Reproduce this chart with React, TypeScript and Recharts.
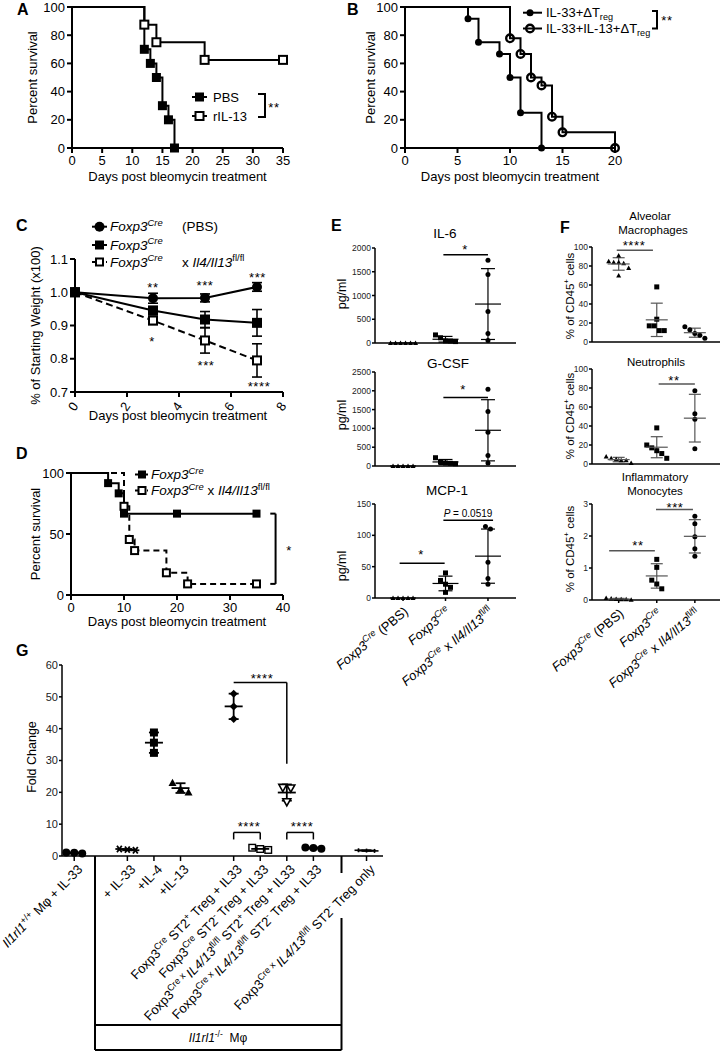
import React from 'react';
import { LineChart, Line, XAxis, YAxis, ScatterChart, Scatter, ErrorBar, ReferenceLine } from 'recharts';

const FONT = "'Liberation Sans', Arial, Helvetica, sans-serif";
type Seg = { t: string; i?: boolean; sup?: boolean; sub?: boolean };

/* ---------------- Panel A ---------------- */
const aXTicks = [0, 5, 10, 15, 20, 25, 30, 35];
const aYTicks = [0, 20, 40, 60, 80, 100];
const aPbsDays = [0, 12, 13, 14, 15, 16, 17];
const aPbsSurv = [100, 70, 60, 50, 30, 20, 0];
const aIl13Days = [0, 12, 14, 22, 35];
const aIl13Surv = [100, 87.5, 75, 62.5, 62.5];

/* ---------------- Panel B ---------------- */
const bXTicks = [0, 5, 10, 15, 20];
const bYTicks = [0, 20, 40, 60, 80, 100];
const bTregDays = [0, 6, 7, 9, 10, 11, 13];
const bTregSurv = [100, 91.7, 75, 66.7, 50, 25, 0];
const bIl13Days = [0, 10, 11, 12, 13, 14, 15, 20];
const bIl13Surv = [100, 77.8, 66.7, 50, 44.4, 22.2, 11.1, 0];

/* ---------------- Panel C ---------------- */
const cDays = [0, 3, 5, 7];
const cXTicks = [0, 2, 4, 6, 8];
const cYTicks = [0.7, 0.8, 0.9, 1.0, 1.1];
const cPbsMean = [1.0, 0.982, 0.983, 1.016];
const cPbsSd = [0, 0.015, 0.012, 0.013];
const cCreMean = [1.0, 0.945, 0.918, 0.908];
const cCreSd = [0, 0.012, 0.024, 0.04];
const cKoMean = [1.0, 0.915, 0.855, 0.795];
const cKoSd = [0, 0.012, 0.038, 0.05];

/* ---------------- Panel D ---------------- */
const dXTicks = [0, 10, 20, 30, 40];
const dYTicks = [0, 50, 100];
const dCreDays = [0, 7, 9, 10, 20, 35];
const dCreSurv = [100, 91.7, 83.3, 66.7, 66.7, 66.7];
const dKoDays = [0, 10, 11, 12, 18, 22, 35];
const dKoSurv = [100, 72.7, 45.5, 36.4, 18.2, 9.1, 9.1];

/* ---------------- Panel E ---------------- */
const eSlots = [1, 2, 3];
const eIl6Ticks = [0, 500, 1000, 1500, 2000];
const eIl6Pbs = [0, 0, 0, 0, 0, 0];
const eIl6Cre = [170, 110, 45, 40, 30];
const eIl6Ko = [1740, 1440, 665, 200, 55];
const eGcsfTicks = [0, 500, 1000, 1500, 2000, 2500];
const eGcsfPbs = [0, 0, 0, 0, 0];
const eGcsfCre = [220, 110, 80, 70, 60];
const eGcsfKo = [2040, 1450, 900, 280, 80];
const eMcpTicks = [0, 50, 100, 150];
const eMcpPbs = [0, 0, 0, 0, 0];
const eMcpCre = [40, 28, 22, 17, 9];
const eMcpKo = [114, 110, 57, 31, 22];

/* ---------------- Panel F ---------------- */
const fPctTicks = [0, 20, 40, 60, 80, 100];
const fAmPbs = [91, 85, 84, 83, 84, 78, 70];
const fAmCre = [58, 24, 17, 17, 12, 12];
const fAmKo = [16, 13, 9, 7, 4];
const fNeuPbs = [8, 6, 5, 4, 4, 1];
const fNeuCre = [38, 20, 17, 14, 11, 6];
const fNeuKo = [77, 53, 47, 16];
const fMonoTicks = [0, 1, 2, 3];
const fMonoPbs = [0.06, 0.05, 0.03, 0.02, 0.02, 0.01];
const fMonoCre = [1.27, 1.02, 0.62, 0.5, 0.35];
const fMonoKo = [2.62, 2.38, 1.98, 1.6, 1.37];

const efCatLabels: Seg[][] = [
  [{ t: 'Foxp3', i: true }, { t: 'Cre', sup: true, i: true }, { t: ' (PBS)' }],
  [{ t: 'Foxp3', i: true }, { t: 'Cre', sup: true, i: true }],
  [{ t: 'Foxp3', i: true }, { t: 'Cre', sup: true, i: true }, { t: ' x ' }, { t: 'Il4/Il13', i: true }, { t: 'fl/fl', sup: true }],
];

/* ---------------- Panel G ---------------- */
const gSlots = [0, 2, 3, 4, 6, 7, 8, 9, 11];
const gYTicks = [0, 10, 20, 30, 40, 50, 60];
const gWtIl33 = [1.0, 0.8, 1.1];
const gIl33 = [2.2, 1.8, 2.0];
const gIl4 = [38.8, 35.6, 32.4];
const gIl13 = [23, 21, 20];
const gCreSt2pos = [51, 47, 43];
const gCreSt2neg = [2.6, 2.2, 1.9];
const gKoSt2pos = [21.5, 21.3, 17];
const gKoSt2neg = [2.7, 2.5, 2.3];
const gKoOnly = [1.8, 1.7, 1.6];
const gLabels: Seg[][] = [
  [{ t: 'Il1rl1', i: true }, { t: '+/+', sup: true }, { t: ' Mφ + IL-33' }],
  [{ t: '+ IL-33' }],
  [{ t: '+IL-4' }],
  [{ t: '+IL-13' }],
  [{ t: 'Foxp3' }, { t: 'Cre', sup: true }, { t: ' ST2' }, { t: '+', sup: true }, { t: ' Treg + IL33' }],
  [{ t: 'Foxp3' }, { t: 'Cre', sup: true }, { t: ' ST2' }, { t: '-', sup: true }, { t: ' Treg + IL33' }],
  [{ t: 'Foxp3' }, { t: 'Cre x ', sup: true }, { t: 'IL4/13', i: true }, { t: 'fl/fl', sup: true }, { t: ' ST2' }, { t: '+', sup: true }, { t: ' Treg + IL33' }],
  [{ t: 'Foxp3' }, { t: 'Cre x ', sup: true }, { t: 'IL4/13', i: true }, { t: 'fl/fl', sup: true }, { t: ' ST2' }, { t: '-', sup: true }, { t: ' Treg + IL33' }],
  [{ t: 'Foxp3' }, { t: 'Cre x ', sup: true }, { t: 'IL4/13', i: true }, { t: 'fl/fl', sup: true }, { t: ' ST2' }, { t: '-', sup: true }, { t: ' Treg only' }],
];

/* ---------------- helpers ---------------- */
const zip = (xs: number[], ys: number[], es?: number[]) => xs.map((x, i) => ({ x, y: ys[i], e: es ? es[i] : 0 }));
const mean = (a: number[]) => a.reduce((s, v) => s + v, 0) / a.length;
const sdev = (a: number[]) => {
  const m = mean(a);
  return a.length > 1 ? Math.sqrt(a.reduce((s, v) => s + (v - m) * (v - m), 0) / (a.length - 1)) : 0;
};

function swarm(vals: number[], pxY: number, d: number): number[] {
  const order = vals.map((_, i) => i).sort((a, b) => vals[b] - vals[a]);
  const offs = new Array(vals.length).fill(0);
  let cl: number[] = [];
  const flush = () => {
    const k = cl.length;
    cl.forEach((idx, j) => (offs[idx] = (j - (k - 1) / 2) * d));
    cl = [];
  };
  order.forEach((idx) => {
    if (cl.length && Math.abs(vals[cl[cl.length - 1]] - vals[idx]) * pxY >= d) flush();
    cl.push(idx);
  });
  flush();
  return offs;
}

function rich(segs: Seg[], fs: number) {
  let cur = 0;
  return segs.map((s, j) => {
    const small = s.sup || s.sub;
    const target = s.sup ? -fs * 0.4 : s.sub ? fs * 0.25 : 0;
    const dy = target - cur;
    cur = target;
    return (
      <tspan key={j} dy={dy} fontSize={small ? fs * 0.7 : fs} fontStyle={s.i ? 'italic' : 'normal'}>
        {s.t}
      </tspan>
    );
  });
}

function geo(x0: number, y0: number, x1: number, y1: number, yw: number, xh: number, mt = 10, mr = 10) {
  return {
    left: x0 - yw,
    top: y0 - mt,
    width: x1 - x0 + yw + mr,
    height: y1 - y0 + mt + xh,
    margin: { top: mt, right: mr, bottom: 0, left: 0 },
    yw,
    xh,
    pw: x1 - x0,
    ph: y1 - y0,
  };
}

function Mk({ k, cx, cy, s }: any) {
  const h = s / 2;
  switch (k) {
    case 'fsq':
      return <rect x={cx - h} y={cy - h} width={s} height={s} fill="#000" />;
    case 'osq':
      return <rect x={cx - h + 1} y={cy - h + 1} width={s - 2} height={s - 2} fill="#fff" stroke="#000" strokeWidth={2} />;
    case 'osqThin':
      return <rect x={cx - h + 0.7} y={cy - h + 0.7} width={s - 1.4} height={s - 1.4} fill="#fff" stroke="#000" strokeWidth={1.4} />;
    case 'fci':
      return <circle cx={cx} cy={cy} r={h} fill="#000" />;
    case 'oci':
      return <circle cx={cx} cy={cy} r={h - 1.2} fill="none" stroke="#000" strokeWidth={2.4} />;
    case 'ftri':
      return <polygon points={`${cx},${cy - h} ${cx + h},${cy + h * 0.8} ${cx - h},${cy + h * 0.8}`} fill="#000" />;
    case 'otriD':
      return (
        <polygon points={`${cx - h},${cy - h * 0.8} ${cx + h},${cy - h * 0.8} ${cx},${cy + h}`} fill="#fff" stroke="#000" strokeWidth={1.6} />
      );
    case 'fdia':
      return <polygon points={`${cx},${cy - h} ${cx + h},${cy} ${cx},${cy + h} ${cx - h},${cy}`} fill="#000" />;
    case 'ast':
      return (
        <g stroke="#000" strokeWidth={1.8}>
          <line x1={cx - h} y1={cy} x2={cx + h} y2={cy} />
          <line x1={cx - h * 0.6} y1={cy - h * 0.8} x2={cx + h * 0.6} y2={cy + h * 0.8} />
          <line x1={cx - h * 0.6} y1={cy + h * 0.8} x2={cx + h * 0.6} y2={cy - h * 0.8} />
        </g>
      );
    case 'plus':
      return (
        <g stroke="#000" strokeWidth={1.6}>
          <line x1={cx - h} y1={cy} x2={cx + h} y2={cy} />
          <line x1={cx} y1={cy - h * 0.5} x2={cx} y2={cy + h * 0.5} />
        </g>
      );
    default:
      return <g />;
  }
}

const markerDot = (mk: string, s: number, skipFirst: boolean) => (p: any) =>
  skipFirst && p.index === 0 ? <g key={`e${p.index}`} /> : <Mk key={`m${p.index}`} k={mk} cx={p.cx} cy={p.cy} s={s} />;

const AX2 = { stroke: '#000', strokeWidth: 2 };
const AX15 = { stroke: '#000', strokeWidth: 1.5 };
const TICK13 = { fontSize: 13, fill: '#000', fontFamily: FONT };

function rotTick(labels: Seg[][], ticks: number[], fs: number, angle: number, dx: number, dy: number) {
  return (p: any) => {
    const idx = ticks.indexOf(p.payload.value);
    const segs = labels[idx] || [];
    const ax = p.x + dx;
    const ay = p.y + dy;
    return (
      <text key={`t${idx}`} x={ax} y={ay} textAnchor="end" transform={`rotate(${angle} ${ax} ${ay})`} fontSize={fs}
        fontFamily={FONT} fill="#000" style={{ whiteSpace: 'pre' }}>
        {rich(segs, fs)}
      </text>
    );
  };
}

const cTick = (p: any) => {
  const ax = p.x + 4;
  const ay = p.y + 9;
  return (
    <text key={`c${p.payload.value}`} x={ax} y={ay} textAnchor="end" transform={`rotate(-55 ${ax} ${ay})`} fontSize={13}
      fontFamily={FONT} fill="#000">
      {p.payload.value}
    </text>
  );
};

/* ---------------- survival chart ---------------- */
function Surv({ g, xDomain, xTicks, yTicks, series, bracket }: any) {
  return (
    <div style={{ position: 'absolute', left: g.left, top: g.top }}>
      <LineChart width={g.width} height={g.height} margin={g.margin}>
        <XAxis type="number" dataKey="x" domain={xDomain} ticks={xTicks} interval={0} height={g.xh}
          axisLine={AX2} tickLine={AX2} tickSize={5} tickMargin={3} tick={TICK13} />
        <YAxis type="number" domain={[0, 100]} ticks={yTicks} interval={0} width={g.yw}
          axisLine={AX2} tickLine={AX2} tickSize={5} tickMargin={2} tick={TICK13} />
        {(bracket || []).map((s: any, i: number) => (
          <ReferenceLine key={'b' + i} segment={s} stroke="#000" strokeWidth={2} />
        ))}
        {series.map((s: any, i: number) => (
          <Line key={i} data={s.data} dataKey="y" type="stepAfter" stroke="#000" strokeWidth={2}
            strokeDasharray={s.dash} dot={markerDot(s.mk, s.size, true)} activeDot={false} isAnimationActive={false} />
        ))}
      </LineChart>
    </div>
  );
}

/* ---------------- dot plot (column scatter) ---------------- */
function DotPlot({ g, yDomain, yTicks, xDomain, slots, groups, marks, markSize, d, meanW, capW, sumW, color, segs, tick, tickSize, yFs }: any) {
  const pxY = g.ph / (yDomain[1] - yDomain[0]);
  const pxX = g.pw / (xDomain[1] - xDomain[0]);
  const summary = groups.map((vals: number[], i: number) => ({ x: slots[i], y: mean(vals), sd: sdev(vals) }));
  return (
    <div style={{ position: 'absolute', left: g.left, top: g.top }}>
      <ScatterChart width={g.width} height={g.height} margin={g.margin}>
        <XAxis type="number" dataKey="x" domain={xDomain} ticks={slots} interval={0} height={g.xh}
          axisLine={AX15} tickLine={AX15} tickSize={tickSize} tickMargin={0} tick={tick || false} />
        <YAxis type="number" dataKey="y" domain={yDomain} ticks={yTicks} interval={0} width={g.yw}
          axisLine={AX15} tickLine={AX15} tickSize={3} tickMargin={1}
          tick={{ fontSize: yFs, fill: '#222', fontFamily: FONT }} />
        {segs.map((s: any, i: number) => (
          <ReferenceLine key={'r' + i} segment={s} stroke={color} strokeWidth={1.5} />
        ))}
        {groups.map((vals: number[], i: number) => {
          const offs = swarm(vals, pxY, d);
          const data = vals.map((v, j) => ({ x: slots[i] + offs[j] / pxX, y: v }));
          return (
            <Scatter key={'s' + i} data={data} isAnimationActive={false}
              shape={(p: any) => <Mk k={marks[i]} cx={p.cx} cy={p.cy} s={markSize} />} />
          );
        })}
        <Scatter data={summary} isAnimationActive={false}
          shape={(p: any) => (
            <line x1={p.cx - meanW / 2} x2={p.cx + meanW / 2} y1={p.cy} y2={p.cy} stroke={color} strokeWidth={sumW} />
          )}>
          <ErrorBar dataKey="sd" direction="y" width={capW / 2} stroke={color} strokeWidth={sumW} />
        </Scatter>
      </ScatterChart>
    </div>
  );
}

/* ---------------- geometry ---------------- */
const gA = geo(72, 7, 283, 148, 45, 24, 7, 12);
const gB = geo(405, 7, 615, 148, 45, 24, 7, 12);
const gC = geo(75, 259, 283, 392, 45, 30, 10, 12);
const gD = geo(71, 473, 283, 595, 45, 24, 10, 12);
const gE1 = geo(375, 248, 516, 343, 45, 10, 10, 4);
const gE2 = geo(375, 372, 516, 466, 45, 10, 10, 4);
const gE3 = geo(375, 504, 516, 598, 45, 112, 10, 4);
const gF1 = geo(592, 247, 720, 342, 55, 10, 10, 1);
const gF2 = geo(592, 369, 720, 464, 55, 10, 10, 1);
const gF3 = geo(592, 504, 720, 600, 55, 112, 10, 1);
const gG = geo(62, 665, 383, 856, 62, 195, 10, 10);

const E_X = [0.34, 3.66];
const F_X = [0.3, 3.66];
const G_X = [-0.46, 11.62];
const efMarks = ['ftri', 'fsq', 'fci'];
const gMarks = ['fci', 'ast', 'fsq', 'ftri', 'fdia', 'osqThin', 'otriD', 'fci', 'plus'];

function Stars({ x, y, s }: any) {
  return (
    <text x={x} y={y} textAnchor="middle" fontSize={13} letterSpacing={0.6}>
      {s}
    </text>
  );
}

function Overlay() {
  const fs = 13;
  return (
    <svg width={721} height={1053} style={{ position: 'absolute', left: 0, top: 0, pointerEvents: 'none' }} fontFamily={FONT} fill="#000">
      {/* panel letters */}
      {[['A', 17, 15], ['B', 347, 15], ['C', 16, 231], ['D', 16, 459], ['E', 331, 231], ['F', 560, 233], ['G', 16, 656]].map((l: any) => (
        <text key={l[0]} x={l[1]} y={l[2]} fontSize={16} fontWeight="bold">{l[0]}</text>
      ))}

      {/* A */}
      <text x={177.5} y={181} textAnchor="middle" fontSize={fs}>Days post bleomycin treatment</text>
      <text transform="translate(36.5,77.5) rotate(-90)" textAnchor="middle" fontSize={fs}>Percent survival</text>
      <line x1={192} x2={207} y1={97} y2={97} stroke="#000" strokeWidth={2} />
      <Mk k="fsq" cx={199.5} cy={97} s={9} />
      <text x={213} y={101.5} fontSize={fs}>PBS</text>
      <line x1={192} x2={207} y1={116} y2={116} stroke="#000" strokeWidth={2} />
      <Mk k="osq" cx={199.5} cy={116} s={10} />
      <text x={213} y={120.5} fontSize={fs}>rIL-13</text>
      <path d="M258,94 H265 V117 H258" fill="none" stroke="#000" strokeWidth={2} />
      <Stars x={274} y={111.5} s="**" />

      {/* B */}
      <text x={510} y={181} textAnchor="middle" fontSize={fs}>Days post bleomycin treatment</text>
      <text transform="translate(374.5,77.5) rotate(-90)" textAnchor="middle" fontSize={fs}>Percent survival</text>
      <line x1={523} x2={542} y1={12.7} y2={12.7} stroke="#000" strokeWidth={2} />
      <Mk k="fci" cx={530} cy={12.7} s={7} />
      <text x={546} y={17} fontSize={13} style={{ whiteSpace: 'pre' }}>{rich([{ t: 'IL-33+ΔT' }, { t: 'reg', sub: true }], 13)}</text>
      <line x1={523} x2={542} y1={28.5} y2={28.5} stroke="#000" strokeWidth={2} />
      <Mk k="oci" cx={530} cy={28.5} s={10} />
      <text x={546} y={33} fontSize={13} style={{ whiteSpace: 'pre' }}>{rich([{ t: 'IL-33+IL-13+ΔT' }, { t: 'reg', sub: true }], 13)}</text>
      <path d="M652,11 H657 V28.5 H652" fill="none" stroke="#000" strokeWidth={2} />
      <Stars x={667} y={25} s="**" />

      {/* C */}
      <line x1={92} x2={107} y1={226.7} y2={226.7} stroke="#000" strokeWidth={2} />
      <Mk k="fci" cx={99.5} cy={226.7} s={10} />
      <text x={110} y={231.4} fontSize={13.5} style={{ whiteSpace: 'pre' }}>{rich([{ t: 'Foxp3', i: true }, { t: 'Cre', sup: true, i: true }], 13.5)}</text>
      <text x={182} y={231.4} fontSize={13.5}>(PBS)</text>
      <line x1={92} x2={107} y1={245} y2={245} stroke="#000" strokeWidth={2} />
      <Mk k="fsq" cx={99.5} cy={245} s={9} />
      <text x={110} y={249.7} fontSize={13.5} style={{ whiteSpace: 'pre' }}>{rich([{ t: 'Foxp3', i: true }, { t: 'Cre', sup: true, i: true }], 13.5)}</text>
      <line x1={92} x2={107} y1={262} y2={262} stroke="#000" strokeWidth={2} strokeDasharray="4 3" />
      <Mk k="osq" cx={99.5} cy={262} s={9} />
      <text x={110} y={266.7} fontSize={13.5} style={{ whiteSpace: 'pre' }}>{rich([{ t: 'Foxp3', i: true }, { t: 'Cre', sup: true, i: true }], 13.5)}</text>
      <text x={182} y={266.7} fontSize={13.5} style={{ whiteSpace: 'pre' }}>{rich([{ t: 'x ' }, { t: 'Il4/Il13', i: true }, { t: 'fl/fl', sup: true }], 13.5)}</text>
      <text transform="translate(40,325.5) rotate(-90)" textAnchor="middle" fontSize={fs}>% of Starting Weight (x100)</text>
      <text x={178} y={420} textAnchor="middle" fontSize={fs}>Days post bleomycin treatment</text>
      <Stars x={153} y={292} s="**" />
      <Stars x={205} y={290} s="***" />
      <Stars x={257.5} y={282} s="***" />
      <Stars x={152} y={346} s="*" />
      <Stars x={206} y={370} s="***" />
      <Stars x={259} y={391} s="****" />

      {/* D */}
      <line x1={135} x2={148} y1={474.5} y2={474.5} stroke="#000" strokeWidth={2} />
      <Mk k="fsq" cx={142} cy={474.5} s={8} />
      <text x={151} y={479} fontSize={13.5} style={{ whiteSpace: 'pre' }}>{rich([{ t: 'Foxp3', i: true }, { t: 'Cre', sup: true, i: true }], 13.5)}</text>
      <line x1={135} x2={148} y1={490.5} y2={490.5} stroke="#000" strokeWidth={2} strokeDasharray="4 2" />
      <Mk k="osq" cx={142} cy={490.5} s={9} />
      <text x={151} y={495} fontSize={13.5} style={{ whiteSpace: 'pre' }}>
        {rich([{ t: 'Foxp3', i: true }, { t: 'Cre', sup: true, i: true }, { t: ' x ' }, { t: 'Il4/Il13', i: true }, { t: 'fl/fl', sup: true }], 13.5)}
      </text>
      <text transform="translate(39.5,534) rotate(-90)" textAnchor="middle" fontSize={fs}>Percent survival</text>
      <text x={177} y={626} textAnchor="middle" fontSize={fs}>Days post bleomycin treatment</text>
      <Stars x={289} y={555} s="*" />

      {/* E */}
      <text x={445} y={238} textAnchor="middle" fontSize={13.5}>IL-6</text>
      <text x={448} y={368} textAnchor="middle" fontSize={13.5}>G-CSF</text>
      <text x={447} y={495} textAnchor="middle" fontSize={13.5}>MCP-1</text>
      <text transform="translate(346,294) rotate(-90)" textAnchor="middle" fontSize={12.5}>pg/ml</text>
      <text transform="translate(346,415) rotate(-90)" textAnchor="middle" fontSize={12.5}>pg/ml</text>
      <text transform="translate(346,566) rotate(-90)" textAnchor="middle" fontSize={12.5}>pg/ml</text>
      <Stars x={465} y={254} s="*" />
      <Stars x={463} y={394} s="*" />
      <Stars x={421} y={559} s="*" />
      <text x={468} y={516.5} textAnchor="middle" fontSize={10}>
        <tspan fontStyle="italic">P</tspan> = 0.0519
      </text>

      {/* F */}
      <text x={650} y={220} textAnchor="middle" fontSize={11.5}>Alveolar</text>
      <text x={653} y={234} textAnchor="middle" fontSize={11.5}>Macrophages</text>
      <text x={656} y={366} textAnchor="middle" fontSize={11.5}>Neutrophils</text>
      <text x={655} y={481} textAnchor="middle" fontSize={11.5}>Inflammatory</text>
      <text x={655} y={495} textAnchor="middle" fontSize={11.5}>Monocytes</text>
      {[296, 416, 549].map((cy) => (
        <text key={cy} transform={`translate(574,${cy}) rotate(-90)`} textAnchor="middle" fontSize={11.5} style={{ whiteSpace: 'pre' }}>
          {rich([{ t: '% of CD45' }, { t: '+', sup: true }, { t: ' cells' }], 11.5)}
        </text>
      ))}
      <Stars x={634} y={250} s="****" />
      <Stars x={674} y={385} s="**" />
      <Stars x={638} y={550} s="**" />
      <Stars x={675} y={511.5} s="***" />

      {/* G */}
      <text transform="translate(36,757) rotate(-90)" textAnchor="middle" fontSize={12.5}>Fold Change</text>
      <Stars x={262} y={683} s="****" />
      <Stars x={249} y={831} s="****" />
      <Stars x={302} y={831} s="****" />
      <g stroke="#000" strokeWidth={2} fill="none">
        <line x1={95} x2={95} y1={856} y2={1050} />
        <line x1={341.5} x2={341.5} y1={856} y2={873} />
        <line x1={341.5} x2={341.5} y1={918} y2={1050} />
        <line x1={95} x2={341.5} y1={1025} y2={1025} />
        <line x1={95} x2={341.5} y1={1050} y2={1050} />
      </g>
      <text x={218} y={1042} textAnchor="middle" fontSize={12} style={{ whiteSpace: 'pre' }}>
        {rich([{ t: 'Il1rl1', i: true }, { t: '-/-', sup: true }, { t: '  Mφ' }], 12)}
      </text>
    </svg>
  );
}

export default function App() {
  const efTick = rotTick(efCatLabels, eSlots, 13, -40, 6, 12);
  const gTick = rotTick(gLabels, gSlots, 13, -46, 9, 9);
  const gSegs = [
    [{ x: 6, y: 54.5 }, { x: 8, y: 54.5 }],
    [{ x: 8, y: 54.5 }, { x: 8, y: 29 }],
    [{ x: 6, y: 5.2 }, { x: 6, y: 7.4 }],
    [{ x: 6, y: 7.4 }, { x: 7, y: 7.4 }],
    [{ x: 7, y: 7.4 }, { x: 7, y: 5.2 }],
    [{ x: 8, y: 5.2 }, { x: 8, y: 7.4 }],
    [{ x: 8, y: 7.4 }, { x: 9, y: 7.4 }],
    [{ x: 9, y: 7.4 }, { x: 9, y: 5.2 }],
  ];
  const eCommon = { xDomain: E_X, slots: eSlots, marks: efMarks, markSize: 5, d: 5, meanW: 26, capW: 14, sumW: 1.2, color: '#000', tickSize: 3, yFs: 8.5 };
  const fCommon = { xDomain: F_X, slots: eSlots, marks: efMarks, markSize: 5, d: 5, meanW: 22, capW: 12, sumW: 1.2, color: '#555', tickSize: 3, yFs: 8.5 };
  return (
    <div style={{ position: 'absolute', left: 0, top: 0, width: 721, height: 1053, background: '#fff', overflow: 'hidden', fontFamily: FONT }}>
      <Surv g={gA} xDomain={[0, 35]} xTicks={aXTicks} yTicks={aYTicks}
        series={[
          { data: zip(aPbsDays, aPbsSurv), mk: 'fsq', size: 9 },
          { data: zip(aIl13Days, aIl13Surv), mk: 'osq', size: 10 },
        ]} />
      <Surv g={gB} xDomain={[0, 20]} xTicks={bXTicks} yTicks={bYTicks}
        series={[
          { data: zip(bIl13Days, bIl13Surv), mk: 'oci', size: 10 },
          { data: zip(bTregDays, bTregSurv), mk: 'fci', size: 7 },
        ]} />
      <div style={{ position: 'absolute', left: gC.left, top: gC.top }}>
        <LineChart width={gC.width} height={gC.height} margin={gC.margin}>
          <XAxis type="number" dataKey="x" domain={[0, 8]} ticks={cXTicks} interval={0} height={gC.xh}
            axisLine={AX2} tickLine={AX2} tickSize={5} tickMargin={0} tick={cTick} />
          <YAxis type="number" domain={[0.7, 1.1]} ticks={cYTicks} interval={0} width={gC.yw}
            axisLine={AX2} tickLine={AX2} tickSize={5} tickMargin={2} tick={TICK13}
            tickFormatter={(v: number) => v.toFixed(1)} />
          <Line data={zip(cDays, cPbsMean, cPbsSd)} dataKey="y" type="linear" stroke="#000" strokeWidth={2}
            dot={markerDot('fci', 10, false)} activeDot={false} isAnimationActive={false}>
            <ErrorBar dataKey="e" direction="y" width={5} stroke="#000" strokeWidth={1.6} />
          </Line>
          <Line data={zip(cDays, cKoMean, cKoSd)} dataKey="y" type="linear" stroke="#000" strokeWidth={2} strokeDasharray="7 4"
            dot={markerDot('osq', 10, false)} activeDot={false} isAnimationActive={false}>
            <ErrorBar dataKey="e" direction="y" width={5} stroke="#000" strokeWidth={1.6} />
          </Line>
          <Line data={zip(cDays, cCreMean, cCreSd)} dataKey="y" type="linear" stroke="#000" strokeWidth={2}
            dot={markerDot('fsq', 10, false)} activeDot={false} isAnimationActive={false}>
            <ErrorBar dataKey="e" direction="y" width={5} stroke="#000" strokeWidth={1.6} />
          </Line>
        </LineChart>
      </div>
      <Surv g={gD} xDomain={[0, 40]} xTicks={dXTicks} yTicks={dYTicks}
        bracket={[
          [{ x: 37.6, y: 66.7 }, { x: 38.6, y: 66.7 }],
          [{ x: 38.6, y: 66.7 }, { x: 38.6, y: 9.1 }],
          [{ x: 37.6, y: 9.1 }, { x: 38.6, y: 9.1 }],
        ]}
        series={[
          { data: zip(dCreDays, dCreSurv), mk: 'fsq', size: 8 },
          { data: zip(dKoDays, dKoSurv), mk: 'osq', size: 9, dash: '6 4' },
        ]} />

      <DotPlot g={gE1} {...eCommon} yDomain={[0, 2000]} yTicks={eIl6Ticks} groups={[eIl6Pbs, eIl6Cre, eIl6Ko]}
        segs={[[{ x: 1.95, y: 1860 }, { x: 3.0, y: 1860 }]]} />
      <DotPlot g={gE2} {...eCommon} yDomain={[0, 2500]} yTicks={eGcsfTicks} groups={[eGcsfPbs, eGcsfCre, eGcsfKo]}
        segs={[[{ x: 1.95, y: 1820 }, { x: 3.0, y: 1820 }]]} />
      <DotPlot g={gE3} {...eCommon} yDomain={[0, 150]} yTicks={eMcpTicks} groups={[eMcpPbs, eMcpCre, eMcpKo]} tick={efTick}
        segs={[
          [{ x: 0.92, y: 55.6 }, { x: 1.98, y: 55.6 }],
          [{ x: 1.95, y: 124 }, { x: 3.12, y: 124 }],
        ]} />

      <DotPlot g={gF1} {...fCommon} yDomain={[0, 100]} yTicks={fPctTicks} groups={[fAmPbs, fAmCre, fAmKo]}
        segs={[[{ x: 0.95, y: 96.5 }, { x: 1.9, y: 96.5 }]]} />
      <DotPlot g={gF2} {...fCommon} yDomain={[0, 100]} yTicks={fPctTicks} groups={[fNeuPbs, fNeuCre, fNeuKo]}
        segs={[[{ x: 2.05, y: 84.3 }, { x: 3.0, y: 84.3 }]]} />
      <DotPlot g={gF3} {...fCommon} yDomain={[0, 3]} yTicks={fMonoTicks} groups={[fMonoPbs, fMonoCre, fMonoKo]} tick={efTick}
        segs={[
          [{ x: 0.75, y: 1.54 }, { x: 1.95, y: 1.54 }],
          [{ x: 1.98, y: 2.83 }, { x: 2.95, y: 2.83 }],
        ]} />

      <DotPlot g={gG} xDomain={G_X} slots={gSlots} marks={gMarks} markSize={8} d={8} meanW={18} capW={10} sumW={1.8}
        color="#000" tickSize={5} yFs={11} yDomain={[0, 60]} yTicks={gYTicks} tick={gTick}
        groups={[gWtIl33, gIl33, gIl4, gIl13, gCreSt2pos, gCreSt2neg, gKoSt2pos, gKoSt2neg, gKoOnly]}
        segs={gSegs} />

      <Overlay />
    </div>
  );
}
